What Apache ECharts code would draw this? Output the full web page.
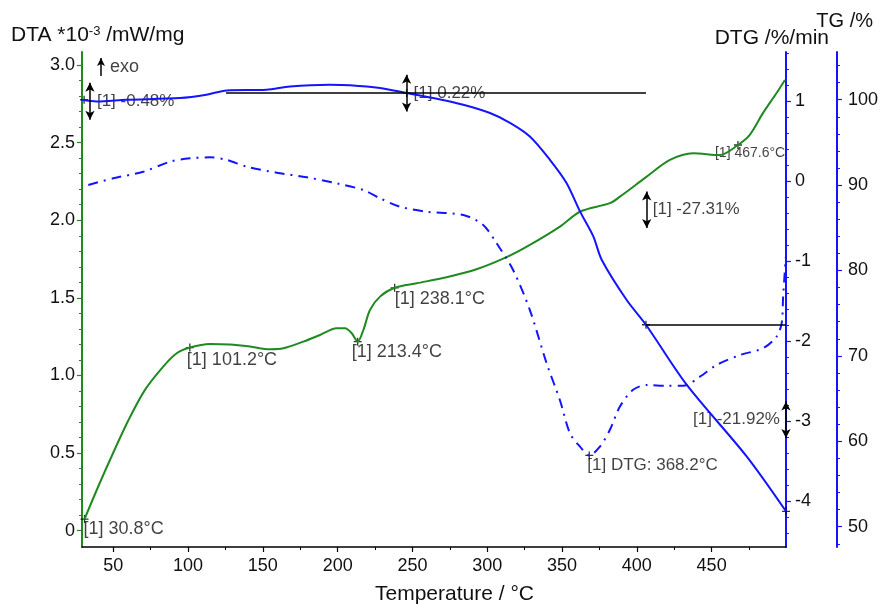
<!DOCTYPE html>
<html>
<head>
<meta charset="utf-8">
<script src="https://cdn.jsdelivr.net/npm/echarts@6/dist/echarts.min.js"></script>
<style>
  html, body { margin: 0; padding: 0; background: #fff; }
  #chart { width: 881px; height: 604px; }
</style>
</head>
<body>
<div id="chart"></div>
<script>
// DTA curve (left axis, *10^-3 mW/mg)
const dtaT = [30.8, 40.1, 50.2, 60.2, 71.2, 83.4, 92.4, 101.2, 114.6, 128.0, 141.4, 154.7, 163.7, 177.0, 188.2, 199.3, 204.9, 209.4, 213.4, 217.2, 221.6, 228.3, 238.1, 252.8, 272.8, 292.8, 312.9, 328.5, 348.6, 362.0, 382.0, 388.7, 406.6, 422.1, 437.7, 455.5, 467.6, 475.5, 484.3, 493.3, 499.0];
const dtaV = [0.075, 0.288, 0.507, 0.713, 0.907, 1.057, 1.143, 1.180, 1.203, 1.199, 1.186, 1.169, 1.175, 1.218, 1.261, 1.304, 1.304, 1.272, 1.218, 1.293, 1.422, 1.508, 1.565, 1.594, 1.633, 1.684, 1.762, 1.841, 1.959, 2.055, 2.110, 2.152, 2.281, 2.389, 2.432, 2.420, 2.485, 2.550, 2.690, 2.818, 2.904];

// TG curve (%)
const tgT = [29.1, 38.9, 58.9, 94.5, 112.3, 125.8, 152.4, 168.1, 194.7, 208.2, 228.3, 246.1, 263.9, 284.0, 301.8, 315.2, 328.5, 341.9, 353.0, 362.0, 370.9, 376.5, 393.1, 406.1, 433.3, 473.4, 499.7];
const tgV = [100.0, 99.8, 100.0, 100.2, 100.59, 101.09, 101.17, 101.56, 101.76, 101.7, 101.37, 100.78, 100.2, 99.41, 98.44, 97.3, 95.7, 92.97, 90.25, 86.92, 84.0, 81.27, 76.58, 73.65, 66.63, 58.23, 51.8];

// DTG curve (%/min)
const dtgT = [33.3, 50.0, 70.1, 87.9, 101.3, 114.6, 125.9, 139.2, 159.2, 179.3, 199.3, 217.1, 228.3, 241.7, 259.5, 284.0, 297.3, 306.3, 317.3, 328.5, 339.7, 348.6, 355.3, 362.0, 368.2, 375.3, 382.0, 388.7, 397.5, 406.6, 419.9, 431.0, 442.2, 453.3, 469.0, 484.5, 493.4, 496.8, 497.8, 499.6];
const dtgV = [-0.05, 0.034, 0.116, 0.241, 0.284, 0.296, 0.263, 0.179, 0.104, 0.046, -0.029, -0.113, -0.216, -0.321, -0.384, -0.425, -0.55, -0.779, -1.113, -1.613, -2.279, -2.74, -3.154, -3.32, -3.43, -3.32, -3.11, -2.82, -2.61, -2.55, -2.56, -2.56, -2.446, -2.3, -2.175, -2.09, -1.946, -1.78, -1.446, -0.95];

// evaluated points
const dtaPeakT = [30.8, 101.2, 213.4, 238.1, 467.6];
const dtaPeakV = [0.075, 1.180, 1.218, 1.565, 2.485];
const dtgPeakT = [368.2];
const dtgPeakV = [-3.43];

// TG mass steps
const stepT = [34.4, 246.1, 406.6, 499.7];
const stepTop = [101.99, 102.93, 89.26, 64.67];
const stepBottom = [97.66, 98.63, 84.98, 60.39];
const stepText = ['[1] -0.48%', '[1] 0.22%', '[1] -27.31%', '[1] -21.92%'];
const tgMarkT = [30.5, 246.1, 406.1, 499.7];
const tgMarkV = [100.0, 100.78, 73.65, 51.8];
const baseStartT = [125.4, 406.1];
const baseEndT = [406.1, 499.7];
const baseTG = [100.8, 73.65];

// exo arrow (DTA units)
const exoT = 41.8;
const exoFrom = 2.93;
const exoTo = 3.045;

// ticks
const xTicks = [50, 100, 150, 200, 250, 300, 350, 400, 450];
const dtaTicks = [0, 0.5, 1.0, 1.5, 2.0, 2.5, 3.0];
const dtgTicks = [-4, -3, -2, -1, 0, 1];
const tgTicks = [50, 60, 70, 80, 90, 100];

const font = 'Liberation Sans';
const txt = '#111';
const green = '#1f8a1f';
const blue = '#1414ff';

function steps(from, to, step) {
  const out = [];
  for (let v = from; v <= to + 1e-9; v += step) out.push(+v.toFixed(3));
  return out;
}
const zip = (a, b) => a.map((v, i) => [v, b[i]]);
const cross = 'path://M4,0L4,8M0,4L8,4';

const X_MIN = 29.1, X_MAX = 499.7;

function minorAxis(pos, min, max, values, color, offset) {
  return {
    type: 'value', position: pos, offset: offset || 0, min: min, max: max,
    axisLine: { show: false, onZero: false },
    axisTick: { show: true, length: 3, customValues: values, lineStyle: { color: color, width: 1 } },
    axisLabel: { show: false },
    splitLine: { show: false }
  };
}

const chart = echarts.init(document.getElementById('chart'));

const dtaLabelOffsets = [[-1, 10], [-3, 12], [-6, 10], [0, 11], [-23, 8]];
const stepLabelOffsets = [[7, 0], [7, 0], [6, 0], [-6, 0]];

chart.setOption({
  animation: false,
  backgroundColor: '#fff',
  textStyle: { fontFamily: font },
  grid: { left: 82, right: 95, top: 52, bottom: 57 },
  xAxis: [
    {
      type: 'value', position: 'bottom', min: X_MIN, max: X_MAX,
      axisLine: { show: true, onZero: false, lineStyle: { color: '#000', width: 1.5 } },
      axisTick: { show: true, length: 5, customValues: xTicks, lineStyle: { color: '#000', width: 1.2 } },
      axisLabel: { customValues: xTicks, fontSize: 18, color: txt, margin: 10, fontFamily: font },
      splitLine: { show: false }
    },
    minorAxis('bottom', X_MIN, X_MAX, steps(75, 475, 50), '#000')
  ],
  yAxis: [
    {
      type: 'value', position: 'left', min: -0.105, max: 3.084,
      axisLine: { show: true, onZero: false, lineStyle: { color: green, width: 2 } },
      axisTick: { show: true, length: 5, customValues: dtaTicks, lineStyle: { color: green, width: 1.2 } },
      axisLabel: { customValues: dtaTicks, fontSize: 18, color: txt, margin: 7, fontFamily: font,
        formatter: v => v === 0 ? '0' : v.toFixed(1) },
      splitLine: { show: false }
    },
    minorAxis('left', -0.105, 3.084, steps(0.1, 3.0, 0.1), green),
    {
      type: 'value', position: 'right', min: -4.575, max: 1.6125,
      axisLine: { show: true, onZero: false, lineStyle: { color: blue, width: 2 } },
      axisTick: { show: true, length: 5, customValues: dtgTicks, lineStyle: { color: blue, width: 1.2 } },
      axisLabel: { customValues: dtgTicks, fontSize: 18, color: txt, margin: 9, fontFamily: font },
      splitLine: { show: false }
    },
    minorAxis('right', -4.575, 1.6125, steps(-4.4, 1.6, 0.2), blue),
    {
      type: 'value', position: 'right', offset: 51, min: 47.62, max: 105.59,
      axisLine: { show: true, onZero: false, lineStyle: { color: blue, width: 2 } },
      axisTick: { show: true, length: 5, customValues: tgTicks, lineStyle: { color: blue, width: 1.2 } },
      axisLabel: { customValues: tgTicks, fontSize: 18, color: txt, margin: 11, fontFamily: font },
      splitLine: { show: false }
    },
    minorAxis('right', 47.62, 105.59, steps(48, 104, 2), blue, 51)
  ],
  series: [
    {
      name: 'DTA', type: 'line', xAxisIndex: 0, yAxisIndex: 0,
      data: zip(dtaT, dtaV), showSymbol: false, smooth: 0.3,
      lineStyle: { color: green, width: 2 }
    },
    {
      name: 'TG', type: 'line', xAxisIndex: 0, yAxisIndex: 4,
      data: zip(tgT, tgV), showSymbol: false, smooth: 0.3,
      lineStyle: { color: blue, width: 2 }
    },
    {
      name: 'DTG', type: 'line', xAxisIndex: 0, yAxisIndex: 2,
      data: zip(dtgT, dtgV), showSymbol: false, smooth: 0.3,
      lineStyle: { color: blue, width: 2, type: [10, 6, 2, 6] }
    },
    {
      // baselines of the TG steps
      type: 'line', xAxisIndex: 0, yAxisIndex: 4, data: [],
      markLine: {
        silent: true, symbol: ['none', 'none'], label: { show: false },
        lineStyle: { color: '#000', width: 1.5, type: 'solid' },
        data: baseTG.map((v, i) => [{ coord: [baseStartT[i], v] }, { coord: [baseEndT[i], v] }])
      }
    },
    {
      // double arrows of the TG steps
      type: 'line', xAxisIndex: 0, yAxisIndex: 4, data: [],
      markLine: {
        silent: true, symbol: ['arrow', 'arrow'], symbolSize: [7, 9], label: { show: false },
        lineStyle: { color: '#000', width: 1.5, type: 'solid' },
        data: stepT.map((t, i) => [{ coord: [t, stepBottom[i]] }, { coord: [t, stepTop[i]] }])
      }
    },
    {
      // exo arrow
      type: 'line', xAxisIndex: 0, yAxisIndex: 0, data: [],
      markLine: {
        silent: true, symbol: ['none', 'arrow'], symbolSize: [6, 8], label: { show: false },
        lineStyle: { color: '#000', width: 1.5, type: 'solid' },
        data: [[{ coord: [exoT, exoFrom] }, { coord: [exoT, exoTo] }]]
      }
    },
    {
      type: 'scatter', xAxisIndex: 0, yAxisIndex: 0, clip: false,
      symbol: 'circle', symbolSize: 1, itemStyle: { color: 'transparent' },
      data: [{
        value: [exoT, (exoFrom + exoTo) / 2],
        label: { show: true, position: 'inside', align: 'left', verticalAlign: 'middle',
          offset: [9, 0], formatter: 'exo', fontSize: 18, color: txt, fontFamily: font }
      }]
    },
    {
      type: 'scatter', xAxisIndex: 0, yAxisIndex: 0, clip: false,
      symbol: cross, symbolSize: 8,
      itemStyle: { color: 'none', borderColor: '#000', borderWidth: 1.3 },
      data: dtaPeakT.map((t, i) => ({
        value: [t, dtaPeakV[i]],
        label: { show: true, position: 'inside', align: 'left', verticalAlign: 'middle',
          offset: dtaLabelOffsets[i], formatter: '[1] ' + t.toFixed(1) + '°C',
          fontSize: i === 4 ? 14 : 18, color: txt, fontFamily: font }
      }))
    },
    {
      type: 'scatter', xAxisIndex: 0, yAxisIndex: 2, clip: false,
      symbol: cross, symbolSize: 8,
      itemStyle: { color: 'none', borderColor: '#000', borderWidth: 1.3 },
      data: dtgPeakT.map((t, i) => ({
        value: [t, dtgPeakV[i]],
        label: { show: true, position: 'inside', align: 'left', verticalAlign: 'middle',
          offset: [-2, 10], formatter: '[1] DTG: ' + t.toFixed(1) + '°C',
          fontSize: 17, color: txt, fontFamily: font }
      }))
    },
    {
      type: 'scatter', xAxisIndex: 0, yAxisIndex: 4, clip: false,
      symbol: cross, symbolSize: 8,
      itemStyle: { color: 'none', borderColor: '#000', borderWidth: 1.3 },
      data: zip(tgMarkT, tgMarkV)
    },
    {
      type: 'scatter', xAxisIndex: 0, yAxisIndex: 4, clip: false,
      symbol: 'circle', symbolSize: 1, itemStyle: { color: 'transparent' },
      data: stepT.map((t, i) => ({
        value: [t, (stepTop[i] + stepBottom[i]) / 2],
        label: { show: true, position: 'inside', align: i === 3 ? 'right' : 'left', verticalAlign: 'middle',
          offset: stepLabelOffsets[i], formatter: stepText[i],
          fontSize: 17, color: txt, fontFamily: font }
      }))
    }
  ],
  graphic: [
    {
      type: 'text', x: 11, y: 35,
      style: {
        text: 'DTA *10{sup|-3} /mW/mg', fontSize: 21, fontFamily: font, fill: txt,
        align: 'left', verticalAlign: 'middle',
        rich: { sup: { fontSize: 13, fontFamily: font, fill: txt, verticalAlign: 'top', lineHeight: 14 } }
      }
    },
    {
      type: 'text', x: 829, y: 38,
      style: { text: 'DTG /%/min', fontSize: 21, fontFamily: font, fill: txt, align: 'right', verticalAlign: 'middle' }
    },
    {
      type: 'text', x: 873, y: 21,
      style: { text: 'TG /%', fontSize: 20, fontFamily: font, fill: txt, align: 'right', verticalAlign: 'middle' }
    },
    {
      type: 'text', x: 375, y: 594,
      style: { text: 'Temperature / °C', fontSize: 21, fontFamily: font, fill: txt, align: 'left', verticalAlign: 'middle' }
    }
  ]
});
</script>
</body>
</html>
